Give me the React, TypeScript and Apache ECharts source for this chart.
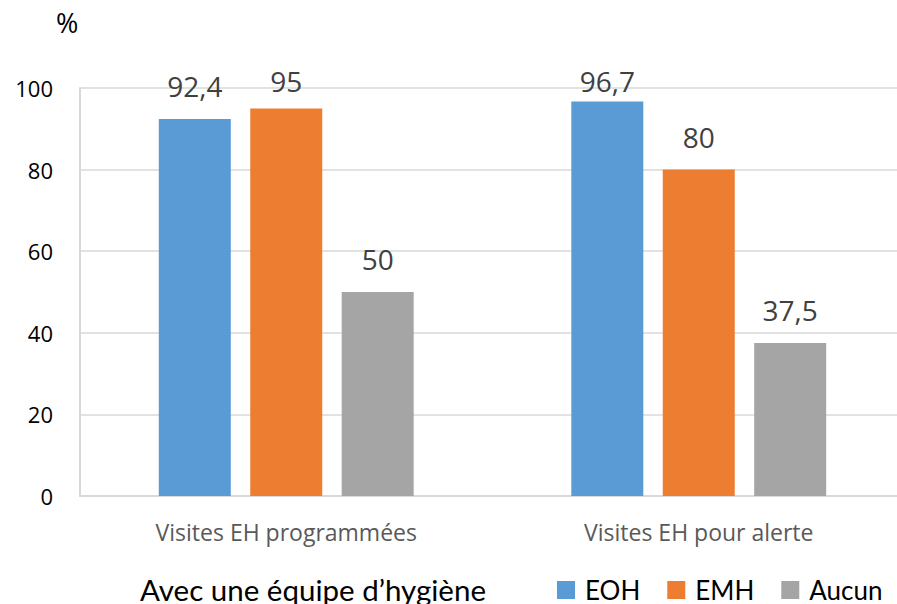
import React, { useEffect, useRef } from "react";
import * as echarts from "echarts";

const categories = ["Visites EH programmées", "Visites EH pour alerte"];
const seriesNames = ["EOH", "EMH", "Aucun"];
const eohValues = [92.4, 96.7];
const emhValues = [95, 80];
const aucunValues = [50, 37.5];
const colors = ["#5B9BD5", "#ED7D31", "#A5A5A5"];
const yTicks = { min: 0, max: 100, interval: 20 };
const legendTitle = "Avec une équipe d\u2019hygiène";
const unitLabel = "%";

// label offsets for labels that Excel clamped near the top of the chart
const labelOffsets: Record<string, number[]> = {
  "EMH-0": [0, 6],
  "EOH-1": [0, 13],
};

export default function App() {
  const ref = useRef<HTMLDivElement>(null);
  useEffect(() => {
    if (!ref.current) return;
    const chart = echarts.init(ref.current, null, { renderer: "svg" });
    const allValues = [eohValues, emhValues, aucunValues];
    const fmt = (v: number) => String(v).replace(".", ",");
    chart.setOption({
      animation: false,
      grid: {
        left: 80,
        top: 88,
        width: 825,
        height: 408,
        containLabel: false,
        outerBoundsMode: "none",
      },
      legend: {
        data: seriesNames,
        left: 557,
        top: 577,
        itemWidth: 18,
        itemHeight: 18,
        itemGap: 27,
        icon: "rect",
        textStyle: {
          fontFamily: "Lato",
          fontSize: 26,
          lineHeight: 26,
          color: "#000",
          padding: [0, 0, 0, 5],
        },
        padding: 0,
      },
      graphic: [
        {
          type: "text",
          left: 140,
          top: 574,
          style: { text: legendTitle, fontFamily: "Lato", fontSize: 29.5, lineHeight: 28, fill: "#000" },
        },
        {
          type: "text",
          left: 56,
          top: 9,
          style: { text: unitLabel, fontFamily: "Open Sans", fontSize: 27, fill: "#000" },
        },
      ],
      xAxis: {
        type: "category",
        data: categories,
        axisLine: { lineStyle: { color: "#D9D9D9", width: 2 } },
        axisTick: { show: false },
        axisLabel: { fontFamily: "Open Sans", fontSize: 23, color: "#595959", margin: 24 },
      },
      yAxis: {
        type: "value",
        min: yTicks.min,
        max: yTicks.max,
        interval: yTicks.interval,
        axisLine: { show: true, lineStyle: { color: "#D9D9D9", width: 2 } },
        axisTick: { show: false },
        splitLine: { lineStyle: { color: "#D9D9D9", width: 1.5 } },
        axisLabel: { fontFamily: "Open Sans", fontSize: 22, color: "#000", margin: 27 },
      },
      series: seriesNames.map((name, si) => ({
        name,
        type: "bar",
        barWidth: 72,
        barGap: "27%",
        itemStyle: { color: colors[si] },
        data: allValues[si].map((v, ci) => {
          const off = labelOffsets[`${name}-${ci}`];
          return off ? { value: v, label: { offset: off } } : { value: v };
        }),
        label: {
          show: true,
          position: "top",
          distance: 19,
          fontFamily: "Open Sans",
          fontSize: 28,
          color: "#404040",
          formatter: (p: any) => fmt(p.value),
        },
      })),
    });
    return () => chart.dispose();
  }, []);
  return (
    <div
      ref={ref}
      style={{ position: "fixed", left: 0, top: 0, width: 897, height: 604, background: "#fff" }}
    />
  );
}
